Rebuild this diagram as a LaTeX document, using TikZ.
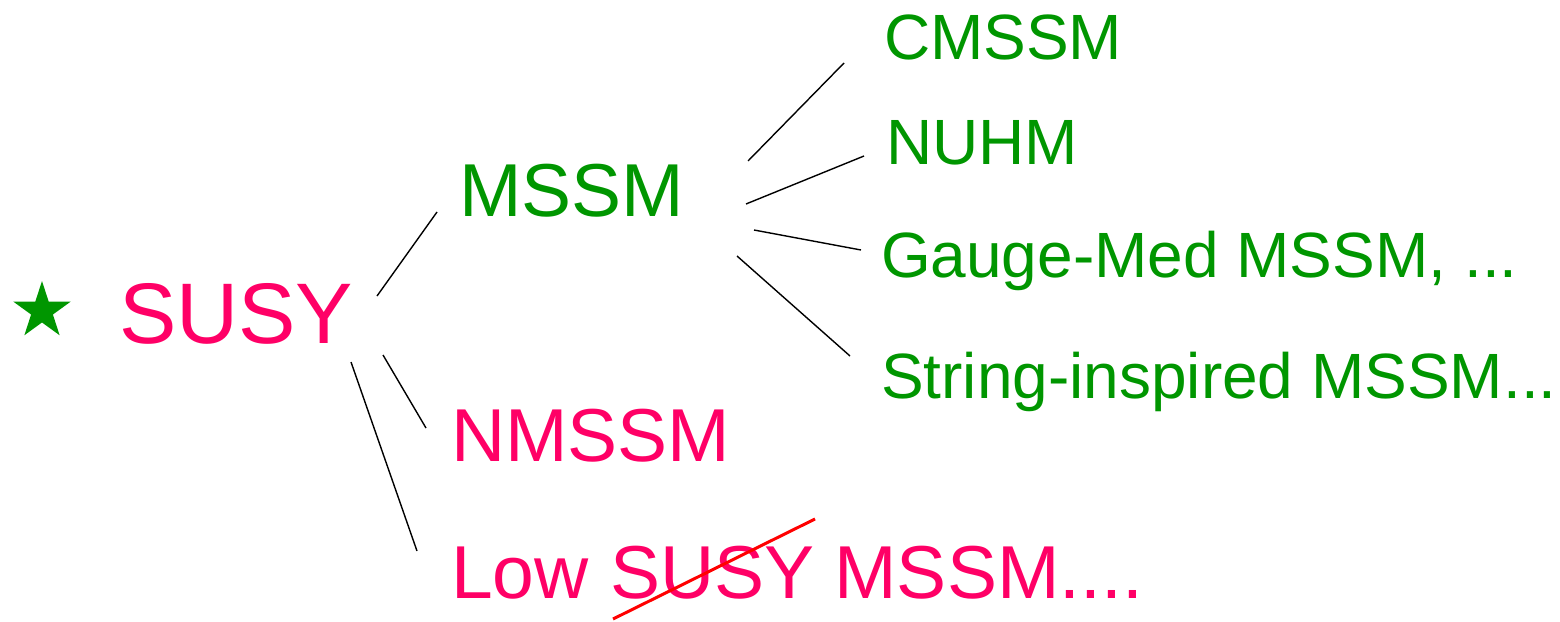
\documentclass[tikz,border=0pt]{standalone}
\usepackage{fontspec}
\setmainfont{Liberation Sans}
\usetikzlibrary{shapes.geometric}
\definecolor{susypink}{RGB}{255,0,102}
\definecolor{susygreen}{RGB}{0,150,0}
\tikzset{
  lbl/.style={anchor=base west,inner sep=0pt,outer sep=0pt},
  big/.style={lbl,text=susypink,font=\fontsize{86}{86}\selectfont},
  midg/.style={lbl,text=susygreen,font=\fontsize{75}{75}\selectfont},
  midp/.style={lbl,text=susypink,font=\fontsize{75}{75}\selectfont},
  small/.style={lbl,text=susygreen,font=\fontsize{64}{64}\selectfont},
  branch/.style={draw=black,line width=1.4pt},
  strike/.style={draw=red,line width=3pt}
}
\begin{document}
\begin{tikzpicture}[x=1pt,y=-1pt]
\useasboundingbox (0,0) rectangle (1560,621);
\node[star,star points=5,star point ratio=2.618,fill=susygreen,draw=none,minimum size=60pt,inner sep=0pt] (star) at (42,311) {};
\node[big] (susy) at (119,343) {SUSY};
\node[midg] (mssm) at (459,216) {MSSM};
\node[midp] (nmssm) at (451,461) {NMSSM};
\node[midp] (low) at (451,598) {Low \phantom{SUSY} MSSM....};
\node[midp,anchor=base west] (lowsusy) at (610,598) {SUSY};
\node[small] (cmssm) at (884,59) {CMSSM};
\node[small] (nuhm) at (886,164) {NUHM};
\node[small] (gauge) at (881,277) {Gauge-Med MSSM, ...};
\node[small] (string) at (881,398) {String-inspired MSSM...};
% connector end points
\coordinate (s1) at (377,296); \coordinate (m1) at (437,212);
\coordinate (s2) at (383,355); \coordinate (n1) at (426,428);
\coordinate (s3) at (351,362); \coordinate (l1) at (417,551);
\coordinate (a0) at (748,161); \coordinate (a1) at (844,63);
\coordinate (b0) at (746,204); \coordinate (b1) at (864,156);
\coordinate (c0) at (754,230); \coordinate (c1) at (861,250);
\coordinate (d0) at (737,256); \coordinate (d1) at (850,356);
\coordinate (x0) at (613,619); \coordinate (x1) at (815,519);
\draw[branch] (s1) -- (m1);
\draw[branch] (s2) -- (n1);
\draw[branch] (s3) -- (l1);
\draw[branch] (a0) -- (a1);
\draw[branch] (b0) -- (b1);
\draw[branch] (c0) -- (c1);
\draw[branch] (d0) -- (d1);
\draw[strike] (x0) -- (x1);
\end{tikzpicture}
\end{document}
